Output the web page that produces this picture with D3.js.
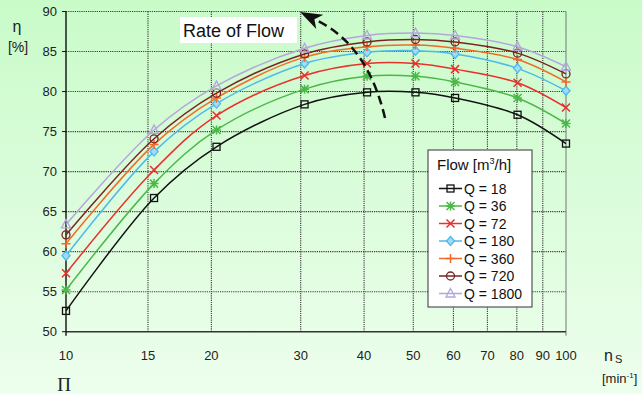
<!DOCTYPE html>
<html>
<head>
<meta charset="utf-8">
<script src="https://cdn.jsdelivr.net/npm/d3@7"></script>
<style>
  html, body { margin: 0; padding: 0; }
  body { width: 642px; height: 394px; overflow: hidden; }
  svg { display: block; font-family: "Liberation Sans", Arial, sans-serif; }
</style>
</head>
<body>
<svg id="chart" width="642" height="394"></svg>
<script>
  // specific speed values (x) and efficiency for each flow rate
  const speeds = [10, 15, 20, 30, 40, 50, 60, 80, 100];
  const flows = ['Q = 18', 'Q = 36', 'Q = 72', 'Q = 180', 'Q = 360', 'Q = 720', 'Q = 1800'];
  const q18 = [52.6, 66.7, 73.1, 78.4, 79.9, 79.9, 79.2, 77.1, 73.5];
  const q36 = [55.2, 68.5, 75.2, 80.3, 81.9, 81.9, 81.2, 79.2, 76.0];
  const q72 = [57.3, 70.2, 77.0, 82.0, 83.5, 83.5, 82.8, 81.1, 78.0];
  const q180 = [59.5, 72.5, 78.5, 83.5, 84.9, 85.1, 84.7, 82.9, 80.1];
  const q360 = [61.0, 73.4, 79.2, 84.3, 85.6, 85.8, 85.4, 84.0, 81.2];
  const q720 = [62.1, 74.1, 79.8, 84.7, 86.2, 86.5, 86.2, 84.8, 82.2];
  const q1800 = [63.4, 75.2, 80.7, 85.4, 87.0, 87.3, 87.0, 85.6, 83.1];
  const xTicks = [10, 15, 20, 30, 40, 50, 60, 70, 80, 90, 100];
  const yTicks = [50, 55, 60, 65, 70, 75, 80, 85, 90];

  const seriesValues = [q18, q36, q72, q180, q360, q720, q1800];
  const colors = ['#111111', '#4cb848', '#e8302c', '#4fb8ec', '#f2692a', '#7b2222', '#b3a6dc'];
  const symbols = ['square', 'star', 'cross', 'diamond', 'plus', 'circle', 'triangle'];

  let svg = d3.select('#chart');

  // background gradient
  let defs = svg.append('defs');
  let grad = defs.append('linearGradient')
    .attr('id', 'bg').attr('x1', 0).attr('y1', 0).attr('x2', 0).attr('y2', 1);
  grad.append('stop').attr('offset', '0%').attr('stop-color', '#c9fbc9');
  grad.append('stop').attr('offset', '100%').attr('stop-color', '#edfeed');
  svg.append('rect').attr('width', 642).attr('height', 394).attr('fill', 'url(#bg)');

  let pLeft = 66, pRight = 566, pTop = 11.5, pBottom = 331.7;

  // data points sit on a true log scale; the printed grid is slightly shifted
  let x = d3.scaleLog().domain([10, 100]).range([pLeft, pRight]);
  let xGrid = d3.scaleLog().domain([10.34, 100]).range([pLeft, pRight]).clamp(true);
  let y = d3.scaleLinear().domain([50, 90]).range([pBottom, pTop]);

  let grid = svg.append('g');
  grid.selectAll('.hg').data(yTicks.filter(d => d > 50)).enter()
    .append('line')
    .attr('x1', pLeft).attr('x2', pRight)
    .attr('y1', d => y(d)).attr('y2', d => y(d))
    .attr('stroke', '#3a3a3a').attr('stroke-width', 1.1).attr('stroke-dasharray', '1.2,1');
  grid.selectAll('.vg').data(xTicks.filter(d => d > 10 && d < 100)).enter()
    .append('line')
    .attr('x1', d => xGrid(d)).attr('x2', d => xGrid(d))
    .attr('y1', pTop).attr('y2', pBottom)
    .attr('stroke', '#3a3a3a').attr('stroke-width', 1.1).attr('stroke-dasharray', '1.2,1');

  // frame
  svg.append('line').attr('x1', pRight).attr('x2', pRight).attr('y1', pTop).attr('y2', pBottom + 4)
    .attr('stroke', '#777').attr('stroke-width', 1);
  svg.append('line').attr('x1', pLeft).attr('x2', pRight).attr('y1', pBottom).attr('y2', pBottom)
    .attr('stroke', '#333').attr('stroke-width', 1.6);
  svg.append('line').attr('x1', pLeft).attr('x2', pLeft).attr('y1', pTop).attr('y2', pBottom + 4)
    .attr('stroke', '#111').attr('stroke-width', 1.4);

  // y axis ticks + labels
  let yAx = svg.append('g');
  yAx.selectAll('line').data(yTicks).enter().append('line')
    .attr('x1', pLeft - 4).attr('x2', pLeft)
    .attr('y1', d => y(d)).attr('y2', d => y(d))
    .attr('stroke', '#111').attr('stroke-width', 1);
  yAx.selectAll('text').data(yTicks).enter().append('text')
    .attr('x', 57).attr('y', d => y(d) + 4.5)
    .attr('text-anchor', 'end')
    .attr('font-size', 13).attr('fill', '#222')
    .text(d => d);

  // x axis labels
  svg.append('g').selectAll('text').data(xTicks).enter().append('text')
    .attr('x', d => xGrid(d)).attr('y', 360)
    .attr('text-anchor', 'middle')
    .attr('font-size', 13).attr('fill', '#222')
    .text(d => d);

  // axis titles
  svg.append('text').attr('x', 17).attr('y', 32).attr('text-anchor', 'middle')
    .attr('font-size', 16).attr('fill', '#222').text('η');
  svg.append('text').attr('x', 18).attr('y', 52).attr('text-anchor', 'middle')
    .attr('font-size', 14).attr('fill', '#222').text('[%]');

  let ns = svg.append('text').attr('x', 604).attr('y', 361).attr('fill', '#222');
  ns.append('tspan').attr('font-size', 16).text('n');
  ns.append('tspan').attr('font-size', 11).attr('dx', 2).attr('dy', 2).text('S');
  let unit = svg.append('text').attr('x', 602).attr('y', 383).attr('fill', '#222').attr('font-size', 13);
  unit.append('tspan').text('[min');
  unit.append('tspan').attr('font-size', 8).attr('dy', -5).text('-1');
  unit.append('tspan').attr('dy', 5).text(']');

  svg.append('text').attr('x', 64).attr('y', 391).attr('text-anchor', 'middle')
    .attr('font-family', '"Liberation Serif", serif').attr('font-size', 19)
    .attr('fill', '#222').text('Π');

  function drawMarker(g, type, cx, cy, color) {
    let s = 3.5;
    if (type === 'square') {
      g.append('rect').attr('x', cx - s).attr('y', cy - s).attr('width', 2 * s).attr('height', 2 * s)
        .attr('fill', 'none').attr('stroke', color).attr('stroke-width', 1.3);
    } else if (type === 'circle') {
      g.append('circle').attr('cx', cx).attr('cy', cy).attr('r', 4)
        .attr('fill', 'none').attr('stroke', color).attr('stroke-width', 1.3);
    } else if (type === 'triangle') {
      g.append('path')
        .attr('d', `M${cx},${cy - 5}L${cx + 4.5},${cy + 3.5}L${cx - 4.5},${cy + 3.5}Z`)
        .attr('fill', 'none').attr('stroke', color).attr('stroke-width', 1.3);
    } else if (type === 'diamond') {
      g.append('path')
        .attr('d', `M${cx},${cy - 4.5}L${cx + 4},${cy}L${cx},${cy + 4.5}L${cx - 4},${cy}Z`)
        .attr('fill', '#9fdcf8').attr('stroke', color).attr('stroke-width', 1.3);
    } else {
      let p = '';
      if (type === 'plus' || type === 'star') {
        p += `M${cx - 4.5},${cy}L${cx + 4.5},${cy}M${cx},${cy - 4.5}L${cx},${cy + 4.5}`;
      }
      if (type === 'cross' || type === 'star') {
        p += `M${cx - 4},${cy - 4}L${cx + 4},${cy + 4}M${cx - 4},${cy + 4}L${cx + 4},${cy - 4}`;
      }
      g.append('path').attr('d', p).attr('stroke', color).attr('stroke-width', 1.5).attr('fill', 'none');
    }
  }

  let line = d3.line()
    .x(d => x(d[0]))
    .y(d => y(d[1]))
    .curve(d3.curveCatmullRom.alpha(0.5));

  seriesValues.forEach(function (vals, i) {
    let pts = speeds.map((s, j) => [s, vals[j]]);
    let g = svg.append('g');
    g.append('path').attr('d', line(pts))
      .attr('fill', 'none').attr('stroke', colors[i]).attr('stroke-width', 1.5);
    pts.forEach(p => drawMarker(g, symbols[i], x(p[0]), y(p[1]), colors[i]));
  });

  // annotation: Rate of Flow with dashed arrow
  svg.append('rect').attr('x', 180).attr('y', 17).attr('width', 117).attr('height', 26).attr('fill', '#fff');
  svg.append('text').attr('x', 183).attr('y', 37).attr('font-size', 18).attr('fill', '#111').text('Rate of Flow');

  defs.append('marker')
    .attr('id', 'head').attr('markerUnits', 'userSpaceOnUse')
    .attr('markerWidth', 24).attr('markerHeight', 16)
    .attr('refX', 4).attr('refY', 8).attr('orient', 'auto')
    .append('path').attr('d', 'M24,8L2,0L8,8L2,16Z').attr('fill', '#111');
  svg.append('path')
    .attr('d', 'M385,118 Q368,46 318,21')
    .attr('fill', 'none').attr('stroke', '#111').attr('stroke-width', 2.5)
    .attr('stroke-dasharray', '9,5')
    .attr('marker-end', 'url(#head)');

  // legend
  let lg = svg.append('g');
  lg.append('rect').attr('x', 428).attr('y', 150).attr('width', 104).attr('height', 157)
    .attr('fill', '#fff').attr('stroke', '#333').attr('stroke-width', 1);
  let lt = lg.append('text').attr('x', 437).attr('y', 170).attr('font-size', 15).attr('fill', '#111');
  lt.append('tspan').text('Flow [m');
  lt.append('tspan').attr('font-size', 9).attr('dy', -6).text('3');
  lt.append('tspan').attr('dy', 6).text('/h]');
  flows.forEach(function (name, i) {
    let cy = 188.5 + i * 17.5;
    lg.append('line').attr('x1', 439).attr('x2', 462).attr('y1', cy).attr('y2', cy)
      .attr('stroke', colors[i]).attr('stroke-width', 1.5);
    drawMarker(lg, symbols[i], 450.5, cy, colors[i]);
    lg.append('text').attr('x', 464).attr('y', cy + 5).attr('font-size', 14).attr('fill', '#111').text(name);
  });
</script>
</body>
</html>
